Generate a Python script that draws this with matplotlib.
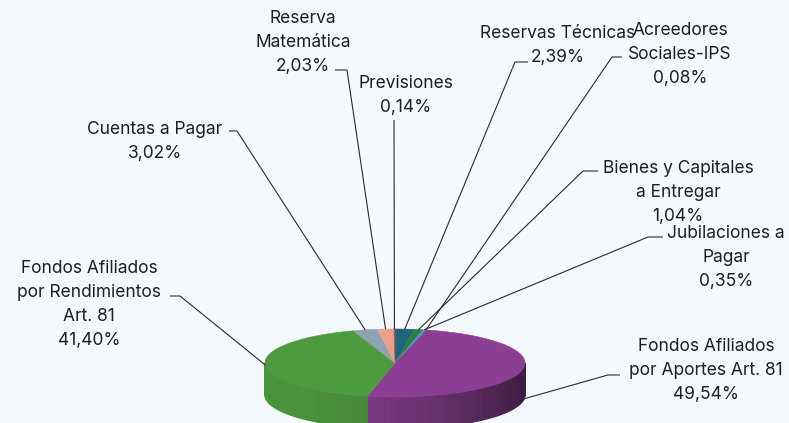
import matplotlib

matplotlib.use("Agg")
import matplotlib.pyplot as plt
import numpy as np
from matplotlib.colors import to_rgb
from matplotlib.patches import Polygon

# data, clockwise from 12 o'clock
names = [
    "Reservas Técnicas",
    "Bienes y Capitales\na Entregar",
    "Jubilaciones a\nPagar",
    "Acreedores\nSociales-IPS",
    "Fondos Afiliados\npor Aportes Art. 81",
    "Fondos Afiliados\npor Rendimientos\nArt. 81",
    "Cuentas a Pagar",
    "Reserva\nMatemática",
    "Previsiones",
]
values = [2.39, 1.04, 0.35, 0.08, 49.54, 41.40, 3.02, 2.03, 0.14]
colors = [
    "#1E6580", "#2F7F45", "#3C9DB0", "#7FB3D5", "#8B3F92",
    "#4E9A3E", "#8FA2B1", "#E6A08B", "#C0504D",
]

# layout (pixel space of the 789x423 canvas)
label_pos = [  # centre x, baseline of first line
    (558, 38), (678, 173), (726, 238), (680, 35), (706, 351),
    (89, 273), (155, 134), (303, 23), (406, 88),
]
leader = [  # tick far x, tick near x, tick y, drop onto side wall
    (528, 515, 62, 0), (598, 583, 171, 0), (663, 648, 237, 0),
    (622, 612, 57, 0), (620, 608, 375, 0.9), (170, 180, 296, 0),
    (229, 237, 131, 0), (335, 347, 70, 0), (394, 394, 120, 0),
]
line_gap = 24
cx, cy, rx, ry, depth = 395, 363, 130, 34, 32


def rim(theta):
    t = np.radians(theta)
    return cx + rx * np.sin(t), cy - ry * np.cos(t)


def shade(color, x):
    frac = (x - (cx - rx)) / (2 * rx)
    f = 0.95 - 0.5 * frac ** 2
    return tuple(c * f for c in to_rgb(color))


fig = plt.figure(figsize=(7.89, 4.23), dpi=100, facecolor="#F4F9FD")
ax = fig.add_axes([0, 0, 1, 1])
ax.set_xlim(0, 789)
ax.set_ylim(423, 0)
ax.axis("off")

fracs = np.array(values) / np.sum(values)
ends = np.cumsum(fracs) * 360
starts = ends - fracs * 360

# side wall, front half only
for a0, a1, col in zip(starts, ends, colors):
    lo, hi = max(a0, 90), min(a1, 270)
    if hi <= lo:
        continue
    steps = np.linspace(lo, hi, max(2, int((hi - lo) / 1.0) + 1))
    for s0, s1 in zip(steps[:-1], steps[1:]):
        x0, y0 = rim(s0)
        x1, y1 = rim(s1)
        c = shade(col, (x0 + x1) / 2)
        ax.add_patch(Polygon(
            [(x0, y0), (x1, y1), (x1, y1 + depth), (x0, y0 + depth)],
            closed=True, facecolor=c, edgecolor=c, linewidth=0.6,
            zorder=2,
        ))

# top face
for a0, a1, col in zip(starts, ends, colors):
    arc = np.linspace(a0, a1, max(2, int((a1 - a0) / 0.5) + 1))
    pts = [(cx, cy)] + [rim(a) for a in arc]
    ax.add_patch(Polygon(
        pts, closed=True, facecolor=col, edgecolor=col, linewidth=0.4,
        zorder=3,
    ))

# labels and leader lines
for name, v, a0, a1, (tx, ty), (far, near, ly, drop) in zip(
    names, values, starts, ends, label_pos, leader
):
    lines = name.split("\n") + [f"{v:.2f}".replace(".", ",") + "%"]
    for i, line in enumerate(lines):
        ax.text(
            tx, ty + i * line_gap, line, ha="center", va="baseline",
            fontsize=12.5, color="#1F1F1F", family=["Inter", "DejaVu Sans"],
            zorder=5,
        )
    mx, my = rim((a0 + a1) / 2)
    my += drop * depth
    ax.plot([far, near, mx], [ly, ly, my], color="#2B2B2B",
            linewidth=0.8, zorder=4, solid_capstyle="butt")

fig.savefig("out.png", dpi=100, facecolor=fig.get_facecolor())
